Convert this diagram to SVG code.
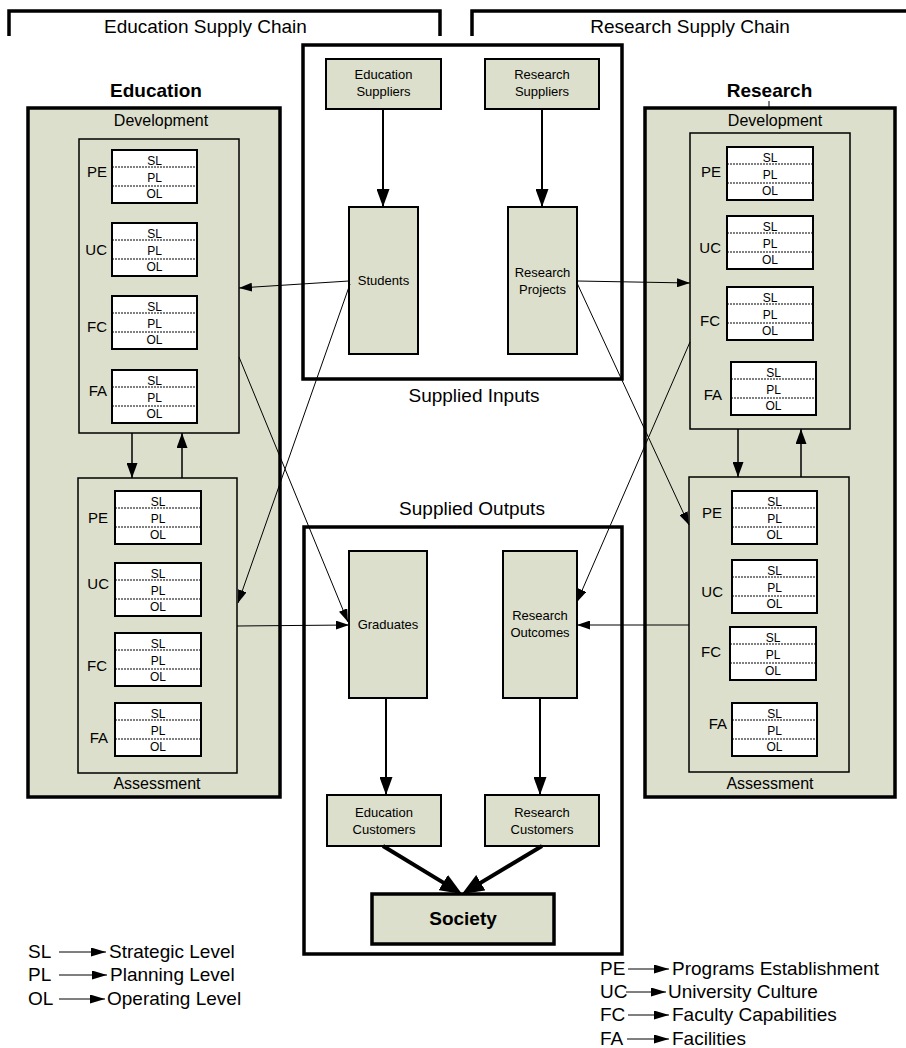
<svg xmlns="http://www.w3.org/2000/svg" width="906" height="1048" viewBox="0 0 906 1048">
<style>
text{font-family:"Liberation Sans",Arial,sans-serif;fill:#000}
.panel{fill:#dcdfcb;stroke:#000;stroke-width:3.5}
.inner{fill:#dcdfcb;stroke:#000;stroke-width:1.5}
.lvl{fill:#fff;stroke:#000;stroke-width:2}
.dash{stroke:#000;stroke-width:1;stroke-dasharray:2,1}
.lt{font-size:12px;text-anchor:middle}
.lab{font-size:15px;text-anchor:end}
.node{fill:#dcdfcb;stroke:#000;stroke-width:2}
.nt{font-size:13px;text-anchor:middle}
.frame{fill:none;stroke:#000;stroke-width:3.5}
.big{font-size:19px}
.title{font-size:19px;font-weight:bold;text-anchor:middle}
.sub{font-size:16px;text-anchor:middle}
.c{fill:none;stroke:#000}
</style>
<defs>
<marker id="ab" markerUnits="userSpaceOnUse" markerWidth="18" markerHeight="13" refX="18" refY="6.5" orient="auto"><path d="M0,0 L18,6.5 L0,13 z" fill="#000"/></marker>
<marker id="am" markerUnits="userSpaceOnUse" markerWidth="15" markerHeight="11" refX="15" refY="5.5" orient="auto"><path d="M0,0 L15,5.5 L0,11 z" fill="#000"/></marker>
<marker id="as" markerUnits="userSpaceOnUse" markerWidth="13" markerHeight="9" refX="13" refY="4.5" orient="auto"><path d="M0,0 L13,4.5 L0,9 z" fill="#000"/></marker>
<marker id="at" markerUnits="userSpaceOnUse" markerWidth="22" markerHeight="18" refX="16" refY="9" orient="auto"><path d="M0,0 L22,9 L0,18 z" fill="#000"/></marker>
<marker id="al" markerUnits="userSpaceOnUse" markerWidth="15" markerHeight="9" refX="15" refY="4.5" orient="auto"><path d="M0,0 L15,4.5 L0,9 z" fill="#000"/></marker>
</defs>

<g id="chains">
<path class="frame" d="M9,36 V11 H440 V36"/>
<text class="big" x="104" y="33">Education Supply Chain</text>
<path class="frame" d="M472,36 V11 H910"/>
<text class="big" x="690" y="33" text-anchor="middle">Research Supply Chain</text>
</g>

<g id="education-panel">
<text class="title" x="156" y="97">Education</text>
<rect class="panel" x="28" y="108" width="252" height="689"/>
<text class="sub" x="161" y="126">Development</text>
<text class="sub" x="157" y="789">Assessment</text>
</g>

<g id="education-development">
<rect class="inner" x="79" y="139" width="160" height="294"/>
<text class="lab" x="107" y="177">PE</text>
<rect class="lvl" x="112" y="150" width="85" height="53"/>
<line class="dash" x1="112" y1="167" x2="197" y2="167"/><line class="dash" x1="112" y1="186" x2="197" y2="186"/>
<text class="lt" x="154.5" y="164.5">SL</text><text class="lt" x="154.5" y="181.5">PL</text><text class="lt" x="154.5" y="197.5">OL</text>
<text class="lab" x="107" y="255">UC</text>
<rect class="lvl" x="112" y="223" width="85" height="53"/>
<line class="dash" x1="112" y1="240" x2="197" y2="240"/><line class="dash" x1="112" y1="259" x2="197" y2="259"/>
<text class="lt" x="154.5" y="237.5">SL</text><text class="lt" x="154.5" y="254.5">PL</text><text class="lt" x="154.5" y="270.5">OL</text>
<text class="lab" x="107" y="332">FC</text>
<rect class="lvl" x="112" y="296" width="85" height="53"/>
<line class="dash" x1="112" y1="313" x2="197" y2="313"/><line class="dash" x1="112" y1="332" x2="197" y2="332"/>
<text class="lt" x="154.5" y="310.5">SL</text><text class="lt" x="154.5" y="327.5">PL</text><text class="lt" x="154.5" y="343.5">OL</text>
<text class="lab" x="107" y="396">FA</text>
<rect class="lvl" x="112" y="370" width="85" height="53"/>
<line class="dash" x1="112" y1="387" x2="197" y2="387"/><line class="dash" x1="112" y1="406" x2="197" y2="406"/>
<text class="lt" x="154.5" y="384.5">SL</text><text class="lt" x="154.5" y="401.5">PL</text><text class="lt" x="154.5" y="417.5">OL</text>
</g>

<g id="education-assessment">
<rect class="inner" x="78" y="478" width="159" height="295"/>
<text class="lab" x="108" y="523">PE</text>
<rect class="lvl" x="115" y="491" width="86" height="53"/>
<line class="dash" x1="115" y1="508" x2="201" y2="508"/><line class="dash" x1="115" y1="527" x2="201" y2="527"/>
<text class="lt" x="158" y="505.5">SL</text><text class="lt" x="158" y="522.5">PL</text><text class="lt" x="158" y="538.5">OL</text>
<text class="lab" x="109" y="589">UC</text>
<rect class="lvl" x="115" y="563" width="86" height="53"/>
<line class="dash" x1="115" y1="580" x2="201" y2="580"/><line class="dash" x1="115" y1="599" x2="201" y2="599"/>
<text class="lt" x="158" y="577.5">SL</text><text class="lt" x="158" y="594.5">PL</text><text class="lt" x="158" y="610.5">OL</text>
<text class="lab" x="107" y="671">FC</text>
<rect class="lvl" x="115" y="633" width="86" height="53"/>
<line class="dash" x1="115" y1="650" x2="201" y2="650"/><line class="dash" x1="115" y1="669" x2="201" y2="669"/>
<text class="lt" x="158" y="647.5">SL</text><text class="lt" x="158" y="664.5">PL</text><text class="lt" x="158" y="680.5">OL</text>
<text class="lab" x="108" y="743">FA</text>
<rect class="lvl" x="115" y="703" width="86" height="53"/>
<line class="dash" x1="115" y1="720" x2="201" y2="720"/><line class="dash" x1="115" y1="739" x2="201" y2="739"/>
<text class="lt" x="158" y="717.5">SL</text><text class="lt" x="158" y="734.5">PL</text><text class="lt" x="158" y="750.5">OL</text>
</g>

<g id="research-panel">
<text class="title" x="769.5" y="97">Research</text>
<line x1="769" y1="101" x2="769" y2="108" stroke="#000" stroke-width="1"/>
<rect class="panel" x="645" y="108" width="250" height="689"/>
<text class="sub" x="775" y="126">Development</text>
<text class="sub" x="770" y="789">Assessment</text>
</g>

<g id="research-development">
<rect class="inner" x="690" y="133" width="160" height="296"/>
<text class="lab" x="721" y="177">PE</text>
<rect class="lvl" x="727" y="147" width="86" height="53"/>
<line class="dash" x1="727" y1="164" x2="813" y2="164"/><line class="dash" x1="727" y1="183" x2="813" y2="183"/>
<text class="lt" x="770" y="161.5">SL</text><text class="lt" x="770" y="178.5">PL</text><text class="lt" x="770" y="194.5">OL</text>
<text class="lab" x="721" y="253">UC</text>
<rect class="lvl" x="727" y="216" width="86" height="53"/>
<line class="dash" x1="727" y1="233" x2="813" y2="233"/><line class="dash" x1="727" y1="252" x2="813" y2="252"/>
<text class="lt" x="770" y="230.5">SL</text><text class="lt" x="770" y="247.5">PL</text><text class="lt" x="770" y="263.5">OL</text>
<text class="lab" x="720" y="326">FC</text>
<rect class="lvl" x="727" y="287" width="86" height="53"/>
<line class="dash" x1="727" y1="304" x2="813" y2="304"/><line class="dash" x1="727" y1="323" x2="813" y2="323"/>
<text class="lt" x="770" y="301.5">SL</text><text class="lt" x="770" y="318.5">PL</text><text class="lt" x="770" y="334.5">OL</text>
<text class="lab" x="722" y="400">FA</text>
<rect class="lvl" x="731" y="362" width="85" height="53"/>
<line class="dash" x1="731" y1="379" x2="816" y2="379"/><line class="dash" x1="731" y1="398" x2="816" y2="398"/>
<text class="lt" x="773.5" y="376.5">SL</text><text class="lt" x="773.5" y="393.5">PL</text><text class="lt" x="773.5" y="409.5">OL</text>
</g>

<g id="research-assessment">
<rect class="inner" x="689" y="477" width="160" height="295"/>
<text class="lab" x="722" y="518">PE</text>
<rect class="lvl" x="732" y="491" width="85" height="53"/>
<line class="dash" x1="732" y1="508" x2="817" y2="508"/><line class="dash" x1="732" y1="527" x2="817" y2="527"/>
<text class="lt" x="774.5" y="505.5">SL</text><text class="lt" x="774.5" y="522.5">PL</text><text class="lt" x="774.5" y="538.5">OL</text>
<text class="lab" x="723" y="597">UC</text>
<rect class="lvl" x="732" y="560" width="85" height="53"/>
<line class="dash" x1="732" y1="577" x2="817" y2="577"/><line class="dash" x1="732" y1="596" x2="817" y2="596"/>
<text class="lt" x="774.5" y="574.5">SL</text><text class="lt" x="774.5" y="591.5">PL</text><text class="lt" x="774.5" y="607.5">OL</text>
<text class="lab" x="721" y="657">FC</text>
<rect class="lvl" x="730" y="627" width="86" height="53"/>
<line class="dash" x1="730" y1="644" x2="816" y2="644"/><line class="dash" x1="730" y1="663" x2="816" y2="663"/>
<text class="lt" x="773" y="641.5">SL</text><text class="lt" x="773" y="658.5">PL</text><text class="lt" x="773" y="674.5">OL</text>
<text class="lab" x="727" y="729">FA</text>
<rect class="lvl" x="732" y="703" width="85" height="53"/>
<line class="dash" x1="732" y1="720" x2="817" y2="720"/><line class="dash" x1="732" y1="739" x2="817" y2="739"/>
<text class="lt" x="774.5" y="717.5">SL</text><text class="lt" x="774.5" y="734.5">PL</text><text class="lt" x="774.5" y="750.5">OL</text>
</g>

<g id="supplied-inputs">
<rect fill="#fff" stroke="#000" stroke-width="3.5" x="303" y="45" width="319" height="334"/>
<text class="big" x="474" y="402" text-anchor="middle">Supplied Inputs</text>
</g>
<g id="education-suppliers">
<rect class="node" x="326" y="59" width="115" height="50"/>
<text class="nt" x="383.5" y="79">Education</text><text class="nt" x="383.5" y="96">Suppliers</text>
</g>
<g id="research-suppliers">
<rect class="node" x="485" y="59" width="114" height="50"/>
<text class="nt" x="542" y="79">Research</text><text class="nt" x="542" y="96">Suppliers</text>
</g>
<g id="students">
<rect class="node" x="349" y="207" width="69" height="147"/>
<text class="nt" x="383.5" y="285">Students</text>
</g>
<g id="research-projects">
<rect class="node" x="508" y="207" width="69" height="147"/>
<text class="nt" x="542.5" y="276.5">Research</text><text class="nt" x="542.5" y="293.5">Projects</text>
</g>

<g id="supplied-outputs">
<rect fill="#fff" stroke="#000" stroke-width="3.5" x="304" y="527" width="318" height="427"/>
<text class="big" x="472" y="515" text-anchor="middle">Supplied Outputs</text>
</g>
<g id="graduates">
<rect class="node" x="349" y="551" width="78" height="147"/>
<text class="nt" x="388" y="629">Graduates</text>
</g>
<g id="research-outcomes">
<rect class="node" x="503" y="551" width="74" height="147"/>
<text class="nt" x="540" y="620">Research</text><text class="nt" x="540" y="637">Outcomes</text>
</g>
<g id="education-customers">
<rect class="node" x="327" y="795" width="114" height="51"/>
<text class="nt" x="384" y="817">Education</text><text class="nt" x="384" y="834">Customers</text>
</g>
<g id="research-customers">
<rect class="node" x="485" y="795" width="114" height="51"/>
<text class="nt" x="542" y="817">Research</text><text class="nt" x="542" y="834">Customers</text>
</g>
<g id="society">
<rect fill="#dcdfcb" stroke="#000" stroke-width="3.5" x="372" y="894" width="182" height="50"/>
<text x="463" y="925" font-size="19" font-weight="bold" text-anchor="middle">Society</text>
</g>

<g id="connectors">
<line class="c" stroke-width="2" x1="383" y1="109" x2="383" y2="207" marker-end="url(#ab)"/>
<line class="c" stroke-width="2" x1="542" y1="109" x2="542" y2="207" marker-end="url(#ab)"/>
<line class="c" stroke-width="1" x1="349" y1="281" x2="239" y2="288" marker-end="url(#as)"/>
<line class="c" stroke-width="1" x1="350" y1="284" x2="238" y2="603" marker-end="url(#as)"/>
<line class="c" stroke-width="1" x1="239" y1="357" x2="348" y2="622" marker-end="url(#as)"/>
<line class="c" stroke-width="1" x1="237" y1="626" x2="349" y2="625" marker-end="url(#as)"/>
<line class="c" stroke-width="1" x1="577" y1="281" x2="690" y2="283" marker-end="url(#as)"/>
<line class="c" stroke-width="1" x1="577" y1="283" x2="689" y2="525" marker-end="url(#as)"/>
<line class="c" stroke-width="1" x1="690" y1="342" x2="577" y2="602" marker-end="url(#as)"/>
<line class="c" stroke-width="1" x1="689" y1="625" x2="577" y2="625" marker-end="url(#as)"/>
<line class="c" stroke-width="2" x1="386" y1="698" x2="386" y2="795" marker-end="url(#ab)"/>
<line class="c" stroke-width="2" x1="540" y1="698" x2="540" y2="795" marker-end="url(#ab)"/>
<line class="c" stroke-width="4" x1="383" y1="846" x2="456.9" y2="890.9" marker-end="url(#at)"/>
<line class="c" stroke-width="4" x1="542" y1="846" x2="467.1" y2="890.9" marker-end="url(#at)"/>
<line class="c" stroke-width="1.5" x1="132" y1="433" x2="132" y2="478" marker-end="url(#am)"/>
<line class="c" stroke-width="1.5" x1="182" y1="478" x2="182" y2="433" marker-end="url(#am)"/>
<line class="c" stroke-width="1.5" x1="738" y1="429" x2="738" y2="477" marker-end="url(#am)"/>
<line class="c" stroke-width="1.5" x1="801" y1="477" x2="801" y2="429" marker-end="url(#am)"/>
</g>

<g id="legend-levels">
<text class="big" x="28" y="958">SL</text>
<line class="c" stroke-width="1" x1="59" y1="952" x2="106" y2="952" marker-end="url(#al)"/>
<text class="big" x="109" y="958">Strategic Level</text>
<text class="big" x="28" y="981">PL</text>
<line class="c" stroke-width="1" x1="59" y1="975" x2="107" y2="975" marker-end="url(#al)"/>
<text class="big" x="110" y="981">Planning Level</text>
<text class="big" x="28" y="1005">OL</text>
<line class="c" stroke-width="1" x1="59" y1="999" x2="105" y2="999" marker-end="url(#al)"/>
<text class="big" x="107" y="1005">Operating Level</text>
</g>

<g id="legend-dimensions">
<text class="big" x="600" y="975">PE</text>
<line class="c" stroke-width="1" x1="628" y1="969" x2="669" y2="969" marker-end="url(#al)"/>
<text class="big" x="672" y="975">Programs Establishment</text>
<text class="big" x="600" y="998">UC</text>
<line class="c" stroke-width="1" x1="626" y1="992" x2="666" y2="992" marker-end="url(#al)"/>
<text class="big" x="668" y="998">University Culture</text>
<text class="big" x="600" y="1021">FC</text>
<line class="c" stroke-width="1" x1="628" y1="1015" x2="669" y2="1015" marker-end="url(#al)"/>
<text class="big" x="672" y="1021">Faculty Capabilities</text>
<text class="big" x="600" y="1045">FA</text>
<line class="c" stroke-width="1" x1="627" y1="1039" x2="669" y2="1039" marker-end="url(#al)"/>
<text class="big" x="672" y="1045">Facilities</text>
</g>
</svg>
